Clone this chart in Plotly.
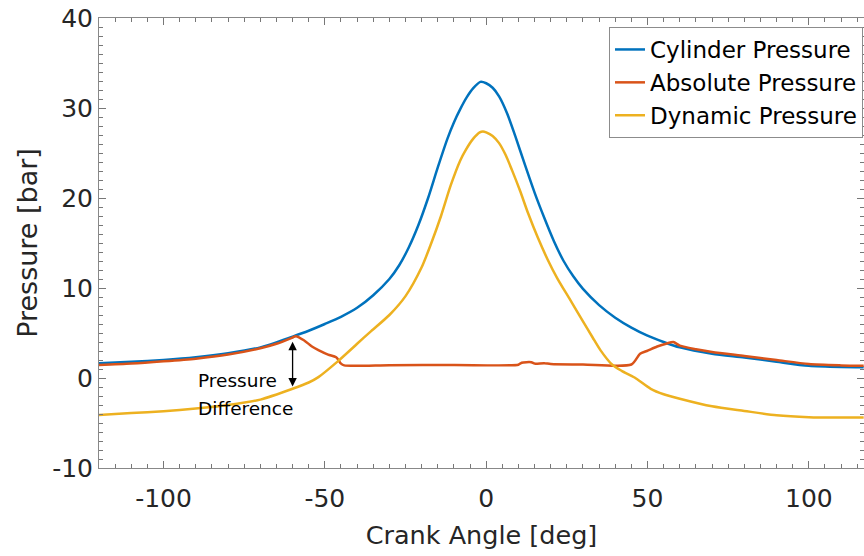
import plotly.graph_objects as go

# Crank angle samples [deg] and pressures [bar]
angle_cyl = [-120, -110, -100, -90, -80, -70, -60, -55, -50, -45, -40, -35, -30, -27, -24, -21, -18, -15, -12, -10, -8, -6, -4, -1.8, 0, 2, 4, 6.5, 9, 12, 15, 18, 21, 24, 27, 30, 35, 40, 45, 50, 55, 60, 70, 80, 90, 100, 110, 117]
cylinder = [1.65, 1.8, 2.0, 2.3, 2.75, 3.4, 4.6, 5.25, 6.0, 6.8, 7.8, 9.2, 11.0, 12.5, 14.5, 17.0, 20.0, 23.4, 26.6, 28.4, 29.9, 31.2, 32.2, 32.9, 32.75, 32.25, 31.3, 29.4, 26.9, 23.7, 20.6, 17.8, 15.2, 13.0, 11.3, 9.9, 8.1, 6.7, 5.6, 4.7, 4.0, 3.4, 2.7, 2.28, 1.8, 1.35, 1.22, 1.2]

angle_abs = [-120, -110, -100, -90, -80, -70, -65, -60, -59, -56.5, -54, -52, -49, -46.5, -45, -44, -30, -10, 10, 11, 14, 15, 18, 20, 30, 45, 47.7, 49.8, 53, 56, 58, 60, 65, 70, 80, 90, 100, 110, 117]
absolute = [1.45, 1.6, 1.85, 2.15, 2.6, 3.3, 3.8, 4.5, 4.65, 4.2, 3.5, 3.1, 2.6, 2.3, 1.6, 1.4, 1.42, 1.45, 1.48, 1.7, 1.75, 1.6, 1.65, 1.55, 1.5, 1.5, 2.7, 3.0, 3.5, 3.84, 4.0, 3.6, 3.2, 2.9, 2.45, 2.0, 1.55, 1.4, 1.35]

angle_dyn = [-120, -110, -100, -90, -80, -70, -60, -55, -52, -46, -40, -36, -30, -25, -20, -17, -14, -11, -8, -6.4, -4, -2, -1, 0, 2, 4, 6, 8, 10.5, 13, 16, 19, 22, 26, 30, 33, 35.4, 39, 42, 46, 51, 55, 60, 70, 80, 90, 100, 110, 117]
dynamic = [-4.1, -3.9, -3.7, -3.4, -3.0, -2.4, -1.2, -0.5, 0.1, 1.85, 3.8, 5.1, 7.0, 9.1, 12.3, 15.0, 18.0, 21.4, 24.2, 25.3, 26.6, 27.3, 27.4, 27.3, 26.9, 26.1, 24.8, 23.1, 20.8, 18.3, 15.6, 13.2, 11.1, 8.7, 6.3, 4.5, 3.1, 1.5, 0.8, 0.05, -1.2, -1.8, -2.3, -3.15, -3.66, -4.14, -4.35, -4.4, -4.4]

series_names = ["Cylinder Pressure", "Absolute Pressure", "Dynamic Pressure"]
series_colors = ["#0072BD", "#D95319", "#EDB120"]

x_ticks = [-100, -50, 0, 50, 100]
x_labels = ["-100", "-50", "0", "50", "100"]
y_ticks = [-10, 0, 10, 20, 30, 40]
y_labels = ["-10", "0", "10", "20", "30", "40"]

FONT = "DejaVu Sans, Verdana, sans-serif"

fig = go.Figure()
for i, (xs, ys) in enumerate([(angle_cyl, cylinder), (angle_abs, absolute), (angle_dyn, dynamic)]):
    fig.add_trace(go.Scatter(x=xs, y=ys, mode="lines", name=series_names[i],
                             legendgroup=f"g{i}",
                             line=dict(color=series_colors[i], width=2.5, shape="spline", smoothing=0.7)))

axis_font = dict(family=FONT, size=25, color="#262626")
fig.update_layout(
    width=864, height=556,
    margin=dict(l=99, r=0, t=18, b=88),
    plot_bgcolor="white", paper_bgcolor="white",
    font=dict(family=FONT, color="#262626"),
    legend=dict(x=0.9987, y=0.98, xanchor="right", yanchor="top",
                bgcolor="white", bordercolor="#8c8c8c", borderwidth=1,
                font=dict(family=FONT, size=23, color="black"), tracegroupgap=0,
                itemwidth=30),
    showlegend=True,
)
fig.update_xaxes(range=[-120, 117.1], tickvals=x_ticks, ticktext=x_labels, ticks="inside", ticklen=7,
                 tickcolor="#777", showline=True, linecolor="#888", linewidth=1,
                 mirror="ticks", showgrid=False, zeroline=False, tickfont=axis_font,
                 ticklabelstandoff=8,
                 minor=dict(dtick=5, ticks="inside", ticklen=4, tickcolor="#777"),
                 title=dict(text="Crank Angle [deg]", font=dict(family=FONT, size=25.5, color="#262626"), standoff=14))
fig.update_yaxes(range=[-10, 40], tickvals=y_ticks, ticktext=y_labels, ticks="inside", ticklen=7,
                 tickcolor="#777", showline=True, linecolor="#888", linewidth=1,
                 mirror="ticks", showgrid=False, zeroline=False, tickfont=axis_font,
                 minor=dict(dtick=1, ticks="inside", ticklen=4, tickcolor="#777"),
                 title=dict(text="Pressure [bar]", font=dict(family=FONT, size=27, color="#262626"), standoff=6))

fig.add_annotation(x=-60, y=-0.95, ax=-60, ay=4.2, xref="x", yref="y", axref="x", ayref="y",
                   text="", showarrow=True, arrowhead=2, arrowside="end+start",
                   arrowsize=1.3, arrowwidth=1.3, arrowcolor="black")
fig.add_annotation(x=-89.8, y=-0.25, xref="x", yref="y", xanchor="left", yanchor="middle",
                   text="Pressure", showarrow=False, font=dict(family=FONT, size=18.5, color="black"))
fig.add_annotation(x=-89.8, y=-3.4, xref="x", yref="y", xanchor="left", yanchor="middle",
                   text="Difference", showarrow=False, font=dict(family=FONT, size=18.5, color="black"))

fig.write_html("out.html")
